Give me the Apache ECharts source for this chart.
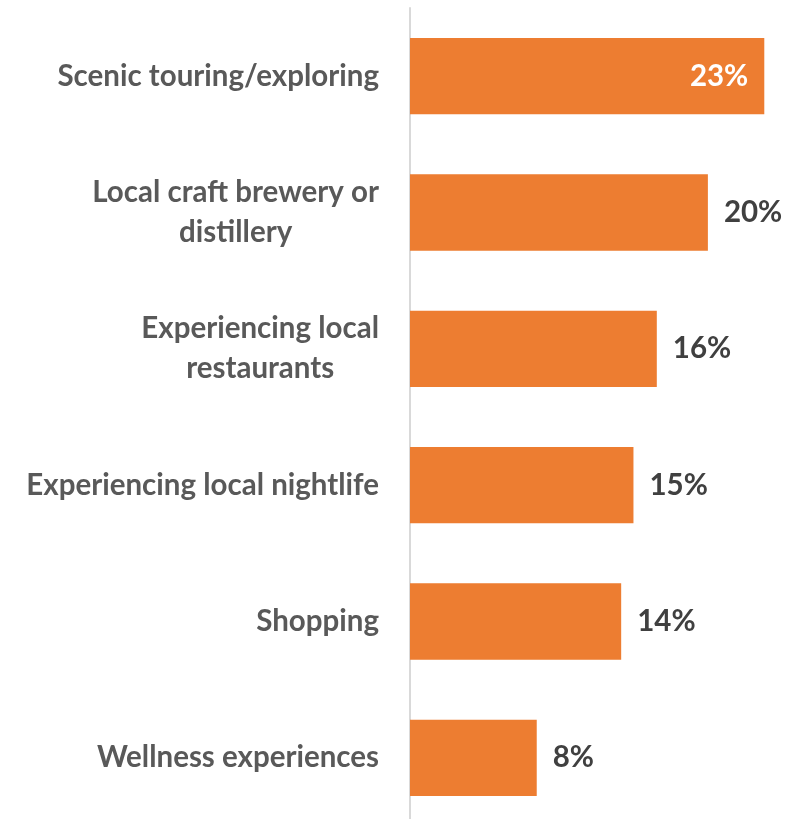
<!DOCTYPE html>
<html>
<head>
<meta charset="utf-8">
<script src="https://cdn.jsdelivr.net/npm/echarts@6/dist/echarts.min.js"></script>
<style>
html,body{margin:0;padding:0;background:#fff;}
#chart{width:801px;height:819px;}
</style>
</head>
<body>
<div id="chart"></div>
<script>
var categories = [
  "Scenic touring/exploring",
  "Local craft brewery or\ndistillery",
  "Experiencing local\nrestaurants",
  "Experiencing local nightlife",
  "Shopping",
  "Wellness experiences"
];
var values = [23.37, 19.65, 16.28, 14.74, 13.93, 8.36];
var valueLabels = ["23%", "20%", "16%", "15%", "14%", "8%"];

var FONT = "Lato";
var chart = echarts.init(document.getElementById("chart"), null, {renderer: "canvas"});

var seriesData = values.map(function (v, i) {
  var item = {value: v};
  if (i === 0) {
    item.label = {position: "insideRight", color: "#ffffff", distance: 16};
  }
  return item;
});

chart.setOption({
  animation: false,
  backgroundColor: "#ffffff",
  grid: {left: 410, right: 12, top: 8, bottom: -7, containLabel: false, outerBoundsMode: "none"},
  xAxis: {
    type: "value", min: 0, max: 25,
    show: false,
    splitLine: {show: false}
  },
  yAxis: {
    type: "category",
    inverse: true,
    data: categories,
    axisLine: {show: true, lineStyle: {color: "#d9d9d9", width: 2}},
    axisTick: {show: false},
    axisLabel: {
      margin: 31,
      align: "right",
      formatter: function (v) {
        return v.split("\n").map(function (s) { return "{c|" + s + "}"; }).join("\n");
      },
      rich: {
        c: {align: "center", fontFamily: FONT, fontWeight: "bold", fontSize: 29.5, color: "#595959", lineHeight: 40}
      }
    }
  },
  series: [{
    type: "bar",
    data: seriesData,
    barCategoryGap: "44%",
    itemStyle: {color: "#ED7D31"},
    label: {
      show: true,
      position: "right",
      distance: 16,
      fontFamily: FONT,
      fontWeight: "bold",
      fontSize: 29.5,
      color: "#404040",
      formatter: function (p) { return valueLabels[p.dataIndex]; }
    }
  }]
});
</script>
</body>
</html>
